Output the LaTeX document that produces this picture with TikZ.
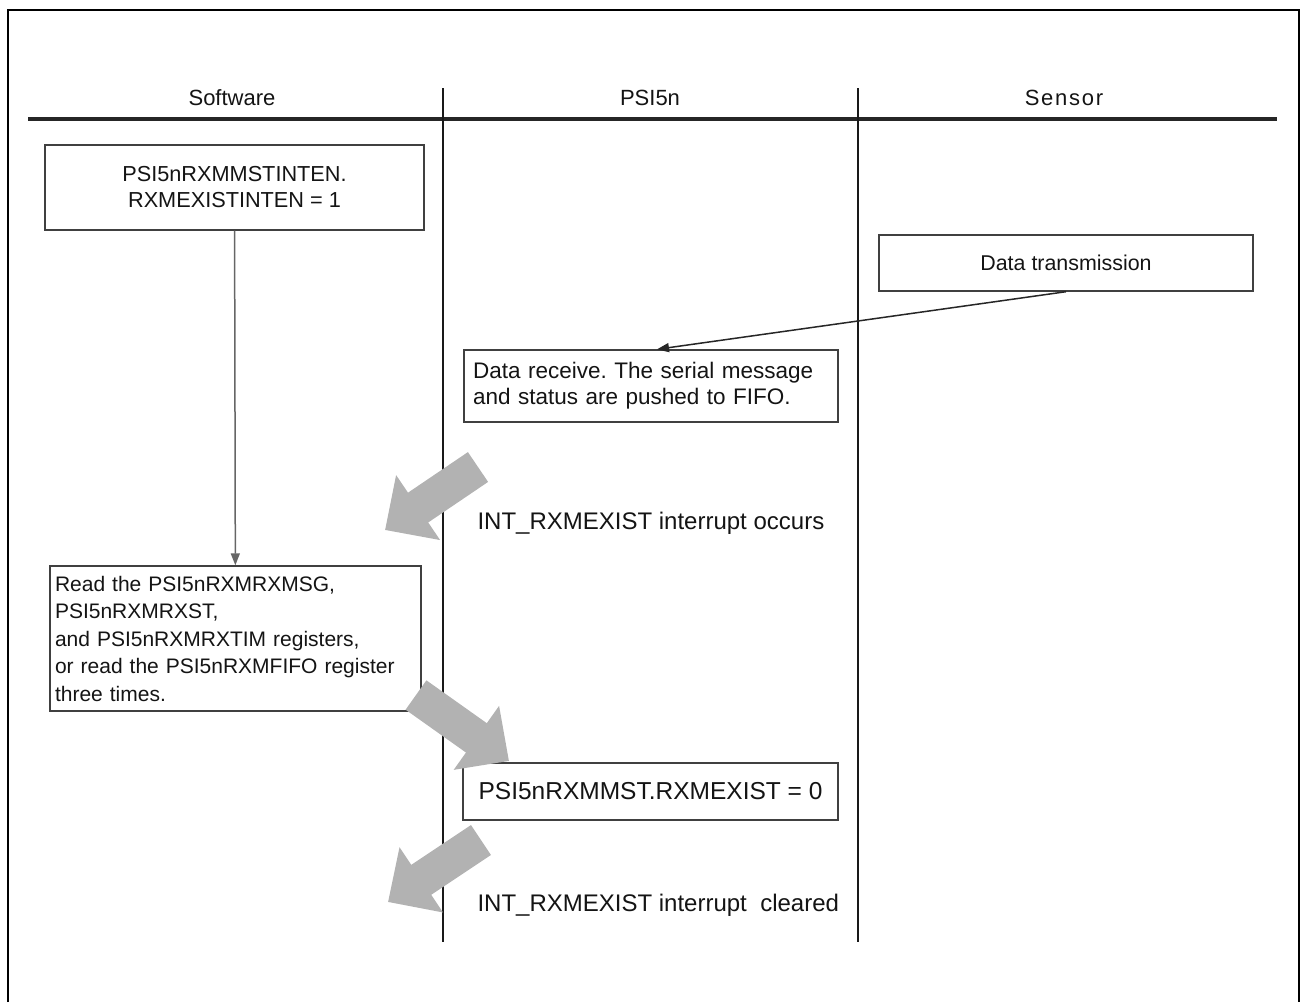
\documentclass[tikz,border=0pt]{standalone}
\usepackage{fontspec}
\setmainfont{Liberation Sans}
\usetikzlibrary{arrows.meta}
\frenchspacing

\begin{document}
\begin{tikzpicture}[x=1pt,y=-1pt,>={Triangle[length=12pt,width=9pt]},
  font=\fontsize{22}{26}\selectfont,text=black!92,line join=miter,
  box/.style={draw=black!75,line width=1.4pt,inner sep=0pt,minimum width=#1},
  lane/.style={black!90,line width=2.8pt},
  bigarrow/.style={draw=black!30,line width=36pt,-{Triangle[length=40pt,width=76pt]}}]
\useasboundingbox (0,0) rectangle (1303,1002);
% frame and swim lanes
\draw[line width=2.4pt] (8,1002) -- (8,10) -- (1299,10) -- (1299,1002);
\draw[black!85,line width=4.2pt] (28,119) -- (1277,119);
\draw[lane] (443,88) -- (443,942);
\draw[lane] (858,88) -- (858,942);
\node (hsw) at (232,98) {Software};
\node (hpsi) at (650,98) {PSI5n};
\node[font=\fontsize{22}{26}\selectfont\addfontfeature{LetterSpace=8}] (hsen) at (1064,98) {Sensor};
% boxes
\node[box=379pt,minimum height=85pt,align=center,font=\fontsize{21.7}{26}\selectfont] (setinten) at (234.5,187.5)
  {PSI5nRXMMSTINTEN.\\RXMEXISTINTEN = 1};
\node[box=374pt,minimum height=56pt,font=\fontsize{21.4}{26}\selectfont] (txdata) at (1066,263) {Data transmission};
\node[box=374pt,minimum height=72pt,inner xsep=9pt,text width=356pt,align=left,
  font=\fontsize{22.5}{26}\selectfont] (rxdata) at (651,386)
  {Data receive. The serial message\\and status are pushed to FIFO.};
\node[anchor=west,font=\fontsize{24}{26}\selectfont] (occurs) at (474,523) {INT\_RXMEXIST interrupt occurs};
\node[box=371pt,minimum height=145pt,inner xsep=5pt,text width=361pt,align=left,
  font=\fontsize{21}{27.5}\selectfont] (readreg) at (235.5,638.5)
  {Read the PSI5nRXMRXMSG,\\PSI5nRXMRXST,\\and PSI5nRXMRXTIM registers,\\or read the PSI5nRXMFIFO register\\three times.};
\node[box=375pt,minimum height=57pt,font=\fontsize{24.5}{26}\selectfont] (clrflag) at (650.5,791.5) {PSI5nRXMMST.RXMEXIST = 0};
\node[anchor=west,font=\fontsize{24}{26}\selectfont] (cleared) at (474,905) {INT\_RXMEXIST interrupt\ \ cleared};
% flow
\draw[->,black!60,line width=1.5pt] (setinten) -- (readreg);
\draw[->,black!85,line width=1.5pt] (txdata.south) -- ([xshift=6pt]rxdata.north);
\coordinate (a1s) at (478,467);
\coordinate (a1e) at (385,530);
\coordinate (a2s) at (416,695);
\coordinate (a2e) at (509,761);
\coordinate (a3s) at (481,840);
\coordinate (a3e) at (388,902);
\draw[bigarrow] (a1s) -- (a1e);
\draw[bigarrow] (a2s) -- (a2e);
\draw[bigarrow] (a3s) -- (a3e);
\end{tikzpicture}
\end{document}
